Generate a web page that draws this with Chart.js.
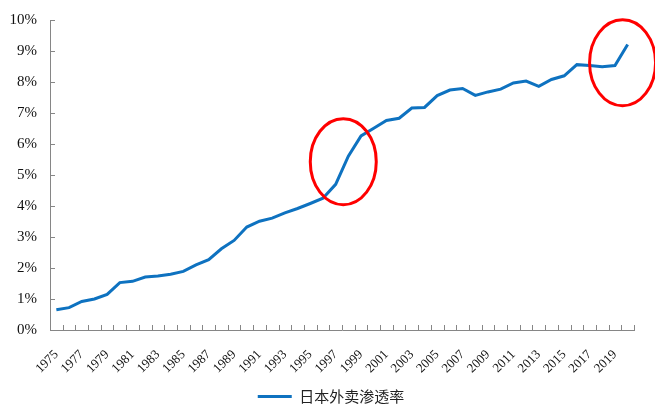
<!DOCTYPE html>
<html>
<head>
<meta charset="utf-8">
<script src="https://cdn.jsdelivr.net/npm/chart.js@4.4.1/dist/chart.umd.min.js"></script>
<style>
    html, body { margin: 0; padding: 0; background: #fff; }
    #wrap { width: 655px; height: 406px; }
</style>
</head>
<body>
<div id="wrap"><canvas id="penetrationChart"></canvas></div>
<script>
// 年份 & 渗透率 (%)
const years = [
    '1975', '1976', '1977', '1978', '1979', '1980', '1981', '1982', '1983', '1984',
    '1985', '1986', '1987', '1988', '1989', '1990', '1991', '1992', '1993', '1994',
    '1995', '1996', '1997', '1998', '1999', '2000', '2001', '2002', '2003', '2004',
    '2005', '2006', '2007', '2008', '2009', '2010', '2011', '2012', '2013', '2014',
    '2015', '2016', '2017', '2018', '2019', '2020'
];
const penetration = [
    0.65, 0.72, 0.92, 1.00, 1.15, 1.53, 1.57, 1.71, 1.74, 1.80,
    1.89, 2.10, 2.27, 2.62, 2.89, 3.32, 3.51, 3.61, 3.78, 3.92,
    4.08, 4.25, 4.70, 5.61, 6.26, 6.51, 6.76, 6.83, 7.16, 7.18,
    7.56, 7.74, 7.79, 7.57, 7.68, 7.77, 7.97, 8.03, 7.86, 8.08,
    8.20, 8.56, 8.53, 8.49, 8.53, 9.21
];
const yTicks = [0, 1, 2, 3, 4, 5, 6, 7, 8, 9, 10];
const seriesName = '日本外卖渗透率';

// red circles: centre position in (year, %) terms
const circleYears = [1997.6, 2019.6];
const circleValues = [5.43, 8.62];

const axisColor = '#868686';

// inside tick marks (Excel style)
const innerTicks = {
    id: 'innerTicks',
    afterDraw(chart) {
        const ctx = chart.ctx;
        const xs = chart.scales.x;
        const ys = chart.scales.y;
        ctx.save();
        ctx.strokeStyle = axisColor;
        ctx.lineWidth = 1;
        ctx.beginPath();
        for (let i = 0; i <= years.length; i++) {
            const px = Math.round(xs.getPixelForValue(i - 0.5)) + 0.5;
            ctx.moveTo(px, ys.bottom);
            ctx.lineTo(px, ys.bottom - 5);
        }
        yTicks.forEach(v => {
            const py = Math.round(ys.getPixelForValue(v)) + 0.5;
            ctx.moveTo(xs.left, py);
            ctx.lineTo(xs.left + 5, py);
        });
        ctx.stroke();
        ctx.restore();
    }
};

const circles = {
    id: 'circles',
    afterDatasetsDraw(chart) {
        const ctx = chart.ctx;
        const xs = chart.scales.x;
        const ys = chart.scales.y;
        ctx.save();
        ctx.strokeStyle = '#ff0000';
        ctx.lineWidth = 3;
        circleYears.forEach((yr, i) => {
            const cx = xs.getPixelForValue(yr - Number(years[0]));
            const cy = ys.getPixelForValue(circleValues[i]);
            ctx.beginPath();
            ctx.ellipse(cx, cy, 33, 43, 0, 0, Math.PI * 2);
            ctx.stroke();
        });
        ctx.restore();
    }
};

// legend sits a little right of the canvas centre in the original
const legendShift = {
    id: 'legendShift',
    afterLayout(chart) {
        if (!chart.legend) return;
        chart.legend.left += 14;
        chart.legend.right += 14;
    }
};

const ctx = document.getElementById('penetrationChart').getContext('2d');
new Chart(ctx, {
    type: 'line',
    data: {
        labels: years,
        datasets: [{
            label: seriesName,
            data: penetration,
            borderColor: '#0e72c0',
            backgroundColor: '#0e72c0',
            borderWidth: 3,
            pointRadius: 0,
            tension: 0,
            fill: false
        }]
    },
    options: {
        responsive: true,
        maintainAspectRatio: false,
        animation: false,
        layout: { padding: { left: 0, right: 21, top: 20, bottom: -8 } },
        plugins: {
            tooltip: { enabled: false },
            legend: {
                position: 'bottom',
                labels: {
                    usePointStyle: true,
                    pointStyle: 'line',
                    pointStyleWidth: 34,
                    boxHeight: 3,
                    padding: 5,
                    color: '#222',
                    font: { family: '"Noto Sans CJK SC", sans-serif', size: 15 }
                }
            }
        },
        scales: {
            x: {
                offset: true,
                grid: { display: false },
                border: { display: true, color: axisColor, width: 1 },
                afterFit: s => { s.height = 54; },
                ticks: {
                    autoSkip: false,
                    maxRotation: 45,
                    minRotation: 45,
                    padding: 9,
                    color: '#111',
                    font: { family: '"Liberation Serif", serif', size: 13 },
                    callback: function (val, i) { return i % 2 === 0 ? years[i] : ''; }
                }
            },
            y: {
                min: 0,
                max: 10,
                afterFit: s => { s.width = 50; },
                afterBuildTicks: s => { s.ticks = yTicks.map(v => ({ value: v })); },
                grid: { display: false },
                border: { display: true, color: axisColor, width: 1 },
                ticks: {
                    padding: 5,
                    color: '#111',
                    font: { family: '"Liberation Serif", serif', size: 15 },
                    callback: v => v + '%'
                }
            }
        }
    },
    plugins: [innerTicks, circles, legendShift]
});
</script>
</body>
</html>
